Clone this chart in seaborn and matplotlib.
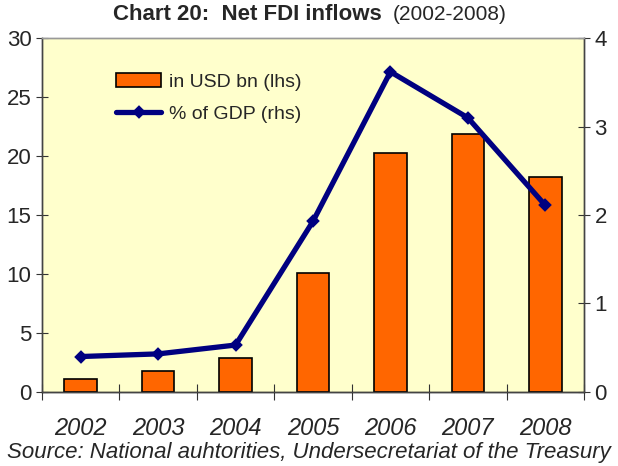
import pandas as pd
import matplotlib
matplotlib.use("Agg")
from matplotlib import pyplot as plt
from matplotlib.ticker import FixedLocator
import seaborn as sns

# data ########################################################################
years = ["2002", "2003", "2004", "2005", "2006", "2007", "2008"]
usd_bn = [1.1, 1.8, 2.9, 10.1, 20.3, 21.9, 18.2]
pct_gdp = [0.40, 0.43, 0.53, 1.93, 3.62, 3.10, 2.11]

df = pd.DataFrame({"year": years, "usd": usd_bn, "gdp": pct_gdp})

sns.set_style("white")
plt.rcParams["font.family"] = ["Liberation Sans", "DejaVu Sans"]

fig = plt.figure(figsize=(6.18, 4.66), dpi=100)
ax = fig.add_axes([0.068, 0.159, 0.877, 0.759])
ax.set_facecolor("#FFFFCC")

sns.barplot(data=df, x="year", y="usd", ax=ax, color="#FF6600", saturation=1,
            width=0.42, edgecolor="black", linewidth=1.2, label="in USD bn (lhs)")

ax2 = ax.twinx()
sns.pointplot(data=df, x="year", y="gdp", ax=ax2, color="#000080", markers="D",
              linestyles="-", linewidth=3.8, markersize=4, errorbar=None,
              label="% of GDP (rhs)")

# axes ########################################################################
ax.set_ylim(0, 30)
ax2.set_ylim(0, 4)
ax.set_xlim(-0.5, len(years) - 0.5)
ax2.set_xlim(-0.5, len(years) - 0.5)
ax.set_yticks(range(0, 31, 5))
ax2.set_yticks(range(0, 5))
ax.set_xlabel("")
ax.set_ylabel("")
ax2.set_ylabel("")

ax.set_xticks(range(len(years)))
ax.set_xticklabels(years, fontsize=17, fontstyle="italic")
ax.xaxis.set_minor_locator(FixedLocator([i - 0.5 for i in range(len(years) + 1)]))
ax.tick_params(axis="x", which="major", length=0, pad=18)
ax.tick_params(axis="x", which="minor", direction="inout", length=12,
               width=0.8, color="#333333", bottom=True)
ax.tick_params(axis="y", direction="inout", length=9, width=0.8,
               color="#333333", labelsize=16, pad=3, left=True)
ax2.tick_params(axis="y", direction="inout", length=9, width=0.8,
                color="#333333", labelsize=16, pad=3, right=True)
ax2.tick_params(axis="x", bottom=False, labelbottom=False)

for a in (ax, ax2):
    for s in a.spines.values():
        s.set_color("#444444")
        s.set_linewidth(1.0)
    a.spines["top"].set_color("#999999")
ax.spines["bottom"].set_color("black")

# legend ######################################################################
h1, l1 = ax.get_legend_handles_labels()
h2, l2 = ax2.get_legend_handles_labels()
for a in (ax, ax2):
    if a.get_legend() is not None:
        a.get_legend().remove()
ax2.legend(h1 + h2, l1 + l2, loc="upper left", bbox_to_anchor=(0.105, 0.95),
           frameon=False, fontsize=14, handlelength=2.3, handletextpad=0.4,
           labelspacing=0.75)

# titles ######################################################################
fig.text(0.618, 0.968, "Chart 20:  Net FDI inflows", ha="right", va="center",
         fontsize=16, fontweight="bold")
fig.text(0.635, 0.968, "(2002-2008)", ha="left", va="center", fontsize=15)
fig.text(0.5, 0.03, "Source: National auhtorities, Undersecretariat of the Treasury",
         ha="center", va="center", fontsize=16, fontstyle="italic")

fig.savefig("out.png", dpi=100)
